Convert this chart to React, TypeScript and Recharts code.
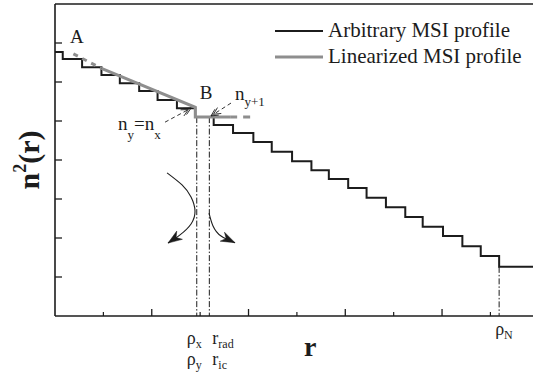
import React from 'react';
import { LineChart, Line, XAxis, YAxis, ReferenceLine, ReferenceDot, Legend, Label } from 'recharts';

if (typeof document !== 'undefined') {
  document.body.style.margin = '0';
}

const W = 533;
const H = 375;
const FONT = "'Liberation Serif', 'Times New Roman', serif";

// Domains
const X_MAX = 4.94;
const Y_MAX = 8;

// Ticks
const yTicks = [1, 2, 3, 4, 5, 6, 7];
const xMajorTicks = [1, 2, 3, 4];
const xMinorTicks = [0.5, 1.5, 2.5, 3.5, 4.5];

// Arbitrary MSI profile: radius where each step begins, and its level n^2
const stepStarts = [0, 0.08, 0.28, 0.48, 0.67, 0.87, 1.06, 1.26, 1.45, 1.64, 1.84, 2.05, 2.24, 2.45, 2.65, 2.83, 3.03, 3.22, 3.42, 3.62, 3.80, 4.01, 4.21, 4.40, 4.59];
const stepLevels = [6.77, 6.59, 6.38, 6.18, 5.97, 5.77, 5.54, 5.33, 5.10, 4.90, 4.69, 4.46, 4.21, 3.97, 3.74, 3.51, 3.28, 3.03, 2.79, 2.54, 2.29, 2.05, 1.79, 1.54, 1.26];

// Linearized MSI profile (A -> B, then flat)
const linDashAx = [0.19, 0.48];
const linDashAy = [6.72, 6.35];
const linSolidX = [0.48, 1.45, 1.45, 1.81];
const linSolidY = [6.35, 5.35, 5.10, 5.10];
const linDashBx = [1.81, 2.06];
const linDashBy = [5.10, 5.10];

// Marker radii (dash-dot verticals) and their labels
const markerTicks = [1.465, 1.595, 4.59];
const markerTops = [5.10, 5.10, 1.26];
const markerRow1: [string, string][] = [['ρ', 'x'], ['r', 'rad'], ['ρ', 'N']];
const markerRow2: ([string, string] | null)[] = [['ρ', 'y'], ['r', 'ic'], null];

// Curved arrows
const leftCurveX = [1.158, 1.313, 1.406, 1.447, 1.406, 1.292, 1.168];
const leftCurveY = [3.67, 3.36, 3.05, 2.69, 2.36, 2.08, 1.87];
const rightCurveX = [1.592, 1.633, 1.716, 1.860];
const rightCurveY = [2.64, 2.31, 2.05, 1.88];

// Dashed annotation arrows
const nxArrowX = [1.137, 1.406];
const nxArrowY = [4.97, 5.33];
const ny1ArrowX = [1.819, 1.612];
const ny1ArrowY = [5.46, 5.13];

// Text annotations
const labelA = { x: 0.227, y: 7.0 };
const labelB = { x: 1.561, y: 5.56 };
const labelNyNx = { x: 0.651, y: 4.77 };
const labelNy1 = { x: 1.86, y: 5.54 };

const zip = (xs: number[], ys: number[]) => xs.map((x, i) => ({ x, y: ys[i] }));

const stepData = [...zip(stepStarts, stepLevels), { x: X_MAX, y: stepLevels[stepLevels.length - 1] }];
const allXTicks = [...xMinorTicks, ...xMajorTicks, ...markerTicks].sort((a, b) => a - b);

const INK = '#1c1c1c';
const GRAY = '#8e8e8e';

const arrowDot = (filled: boolean, len: number, half: number) => (props: any) => {
  const { cx, cy, index, points } = props;
  if (!points || index !== points.length - 1 || index < 1) return <g key={`d${index}`} />;
  const prev = points[index - 1];
  const a = Math.atan2(cy - prev.y, cx - prev.x);
  const c = Math.cos(a);
  const s = Math.sin(a);
  const bx = cx - len * c;
  const by = cy - len * s;
  const p1 = `${bx - half * s},${by + half * c}`;
  const p2 = `${bx + half * s},${by - half * c}`;
  if (filled) {
    const nx = cx - len * 0.7 * c;
    const ny = cy - len * 0.7 * s;
    return <polygon key={`d${index}`} points={`${cx},${cy} ${p1} ${nx},${ny} ${p2}`} fill={INK} stroke={INK} strokeWidth={0.5} />;
  }
  const bx2 = cx - (len + 3) * c;
  const by2 = cy - (len + 3) * s;
  const q1 = `${bx2 - half * s},${by2 + half * c}`;
  const q2 = `${bx2 + half * s},${by2 - half * c}`;
  const tx2 = cx - 3 * c;
  const ty2 = cy - 3 * s;
  return (
    <g key={`d${index}`}>
      <polyline points={`${p1} ${cx},${cy} ${p2}`} fill="none" stroke={INK} strokeWidth={0.9} />
      <polyline points={`${q1} ${tx2},${ty2} ${q2}`} fill="none" stroke={INK} strokeWidth={0.9} />
    </g>
  );
};

// Bottom axis tick: inward major/minor tick marks and the marker labels
const BottomTick = (props: any) => {
  const { x, y, payload } = props;
  const v = payload.value;
  if (xMajorTicks.includes(v)) {
    return <line x1={x} x2={x} y1={y} y2={y - 7} stroke={INK} strokeWidth={1.3} />;
  }
  if (xMinorTicks.includes(v)) {
    return <line x1={x} x2={x} y1={y} y2={y - 4} stroke={INK} strokeWidth={1.2} />;
  }
  const i = markerTicks.indexOf(v);
  if (i < 0) return <g />;
  const dxs = [-10, 3, -4];
  const row1Dy = [28, 28, 19];
  const r1 = markerRow1[i];
  const r2 = markerRow2[i];
  return (
    <g>
      <text x={x + dxs[i]} y={y + row1Dy[i]} fontFamily={FONT} fontSize={18} fill={INK}>
        {r1[0]}
        <tspan fontSize={12} dy={4}>{r1[1]}</tspan>
      </text>
      {r2 && (
        <text x={x + dxs[i]} y={y + 49} fontFamily={FONT} fontSize={18} fill={INK}>
          {r2[0]}
          <tspan fontSize={12} dy={4}>{r2[1]}</tspan>
        </text>
      )}
    </g>
  );
};

// Left axis tick: inward tick mark only
const LeftTick = (props: any) => {
  const { x, y } = props;
  return <line x1={x} x2={x + 7} y1={y} y2={y} stroke={INK} strokeWidth={1.3} />;
};

const textShape = (content: React.ReactNode, anchor: 'start' | 'middle' = 'start', size = 19) => (p: any) => (
  <text x={p.cx} y={p.cy} textAnchor={anchor} fontFamily={FONT} fontSize={size} fill={INK}>
    {content}
  </text>
);

const renderLegend = () => (
  <svg width={262} height={60} style={{ display: 'block', overflow: 'visible' }}>
    <line x1={3} x2={51} y1={15} y2={15} stroke={INK} strokeWidth={2} />
    <text x={56} y={21} fontFamily={FONT} fontSize={21} fill={INK}>Arbitrary MSI profile</text>
    <line x1={3} x2={51} y1={41} y2={41} stroke={GRAY} strokeWidth={3} />
    <text x={56} y={47} fontFamily={FONT} fontSize={21} fill={INK}>Linearized MSI profile</text>
  </svg>
);

const YLabel = (props: any) => {
  const { viewBox } = props;
  const x = viewBox.x + 39;
  const y = viewBox.y + viewBox.height / 2;
  return (
    <text x={x} y={y} transform={`rotate(-90, ${x}, ${y})`} textAnchor="middle" fontFamily={FONT} fontWeight="bold" fontSize={30} fill={INK}>
      n<tspan fontSize={18} dy={-13}>2</tspan>
      <tspan dy={13}>(r)</tspan>
    </text>
  );
};

const XLabel = (props: any) => {
  const { viewBox } = props;
  return (
    <text x={viewBox.x + viewBox.width * 0.534} y={viewBox.y + 40} textAnchor="middle" fontFamily={FONT} fontWeight="bold" fontSize={28} fill={INK}>
      r
    </text>
  );
};

export default function App() {
  return (
    <div style={{ width: W, height: H, overflow: 'hidden', background: '#fff' }}>
      <LineChart width={W} height={H} margin={{ top: 0, right: 0, bottom: 0, left: 0 }}>
        <XAxis
          xAxisId="x"
          type="number"
          dataKey="x"
          domain={[0, X_MAX]}
          allowDataOverflow
          ticks={allXTicks}
          interval={0}
          height={59}
          tick={<BottomTick />}
          tickLine={false}
          tickSize={0}
          tickMargin={0}
          axisLine={{ stroke: INK, strokeWidth: 1.6 }}
        >
          <Label content={<XLabel />} />
        </XAxis>
        <XAxis
          xAxisId="top"
          orientation="top"
          type="number"
          dataKey="x"
          domain={[0, X_MAX]}
          height={4}
          tick={false}
          tickLine={false}
          axisLine={{ stroke: INK, strokeWidth: 1.4 }}
        />
        <YAxis
          yAxisId="y"
          type="number"
          domain={[0, Y_MAX]}
          allowDataOverflow
          ticks={yTicks}
          interval={0}
          width={55}
          tick={<LeftTick />}
          tickSize={0}
          tickMargin={0}
          tickLine={false}
          axisLine={{ stroke: INK, strokeWidth: 1.6 }}
        >
          <Label content={<YLabel />} />
        </YAxis>

        <Legend
          layout="horizontal"
          verticalAlign="middle"
          align="center"
          wrapperStyle={{ top: 16, left: 272, width: 261, height: 60 }}
          content={renderLegend}
        />

        {markerTicks.map((mx, i) => (
          <ReferenceLine
            key={`m${i}`}
            xAxisId="x"
            yAxisId="y"
            segment={[{ x: mx, y: markerTops[i] }, { x: mx, y: 0 }]}
            stroke={INK}
            strokeWidth={1}
            strokeDasharray="6 2 1.5 2"
          />
        ))}

        <Line
          xAxisId="x"
          yAxisId="y"
          name="Arbitrary MSI profile"
          data={stepData}
          dataKey="y"
          type="stepAfter"
          stroke={INK}
          strokeWidth={2}
          dot={false}
          isAnimationActive={false}
        />
        <Line
          xAxisId="x"
          yAxisId="y"
          name="Linearized MSI profile"
          data={zip(linSolidX, linSolidY)}
          dataKey="y"
          type="linear"
          stroke={GRAY}
          strokeWidth={3}
          dot={false}
          isAnimationActive={false}
        />
        <Line
          xAxisId="x"
          yAxisId="y"
          data={zip(linDashAx, linDashAy)}
          dataKey="y"
          type="linear"
          stroke={GRAY}
          strokeWidth={3}
          strokeDasharray="5 5"
          dot={false}
          legendType="none"
          isAnimationActive={false}
        />
        <Line
          xAxisId="x"
          yAxisId="y"
          data={zip(linDashBx, linDashBy)}
          dataKey="y"
          type="linear"
          stroke={GRAY}
          strokeWidth={3}
          strokeDasharray="7 6"
          dot={false}
          legendType="none"
          isAnimationActive={false}
        />

        <Line
          xAxisId="x"
          yAxisId="y"
          data={zip(leftCurveX, leftCurveY)}
          dataKey="y"
          type="natural"
          stroke={INK}
          strokeWidth={1.1}
          dot={arrowDot(true, 14, 5)}
          activeDot={false}
          legendType="none"
          isAnimationActive={false}
        />
        <Line
          xAxisId="x"
          yAxisId="y"
          data={zip(rightCurveX, rightCurveY)}
          dataKey="y"
          type="natural"
          stroke={INK}
          strokeWidth={1.1}
          dot={arrowDot(true, 14, 5)}
          activeDot={false}
          legendType="none"
          isAnimationActive={false}
        />
        <Line
          xAxisId="x"
          yAxisId="y"
          data={zip(nxArrowX, nxArrowY)}
          dataKey="y"
          type="linear"
          stroke={INK}
          strokeWidth={0.9}
          strokeDasharray="4 3"
          dot={arrowDot(false, 7, 3.5)}
          activeDot={false}
          legendType="none"
          isAnimationActive={false}
        />
        <Line
          xAxisId="x"
          yAxisId="y"
          data={zip(ny1ArrowX, ny1ArrowY)}
          dataKey="y"
          type="linear"
          stroke={INK}
          strokeWidth={0.9}
          strokeDasharray="4 3"
          dot={arrowDot(false, 7, 3.5)}
          activeDot={false}
          legendType="none"
          isAnimationActive={false}
        />

        <ReferenceDot xAxisId="x" yAxisId="y" x={labelA.x} y={labelA.y} r={0} shape={textShape('A', 'middle', 19)} />
        <ReferenceDot xAxisId="x" yAxisId="y" x={labelB.x} y={labelB.y} r={0} shape={textShape('B', 'middle', 19)} />
        <ReferenceDot
          xAxisId="x"
          yAxisId="y"
          x={labelNyNx.x}
          y={labelNyNx.y}
          r={0}
          shape={textShape(
            <>
              n<tspan fontSize={13} dy={9}>y</tspan>
              <tspan dy={-9}>=n</tspan>
              <tspan fontSize={13} dy={9}>x</tspan>
            </>,
            'start',
            19
          )}
        />
        <ReferenceDot
          xAxisId="x"
          yAxisId="y"
          x={labelNy1.x}
          y={labelNy1.y}
          r={0}
          shape={textShape(
            <>
              n<tspan fontSize={13} dy={6}>y+1</tspan>
            </>,
            'start',
            19
          )}
        />
      </LineChart>
    </div>
  );
}
